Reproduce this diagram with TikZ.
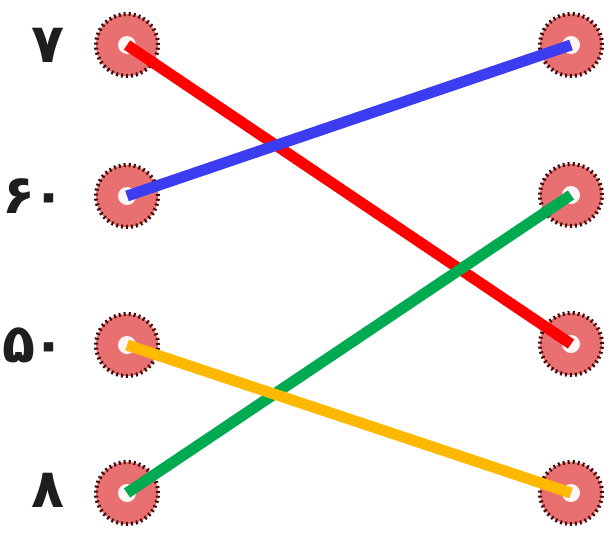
\documentclass[tikz,border=0pt]{standalone}
\usepackage{fontspec}
\usepackage{tikz}
\usepackage{xcolor}
\newfontfamily\digitfont[Script=Arabic]{DejaVu Sans}
\newcommand{\digits}{\digitfont\bfseries\fontsize{54pt}{58pt}\selectfont}
\definecolor{dotfill}{RGB}{232,112,112}
\definecolor{dotrim}{RGB}{70,10,10}
\definecolor{linkblue}{RGB}{60,60,240}
\definecolor{linkgreen}{RGB}{0,170,80}
\definecolor{linkorange}{RGB}{255,185,0}
\definecolor{numgray}{RGB}{30,30,30}

\begin{document}
\begin{tikzpicture}[x=1pt,y=-1pt,
    dot/.style={circle,minimum size=62pt,inner sep=0pt,fill=dotfill,
        draw=dotrim,line width=4pt,dash pattern=on 2pt off 3pt},
    spot/.style={circle,minimum size=18pt,inner sep=0pt,fill=white!85!pink},
    num/.style={anchor=east,inner sep=0pt,text=numgray},
    link/.style={line width=11pt}]
    \useasboundingbox (0,0) rectangle (615,541);

    % labels on the left
    \node[num] (n1) at (65,45) {\digits ۷};
    \node[num] (n2) at (66,196) {\digits ۶\kern-3pt۰};
    \node[num] (n3) at (66,345) {\digits ۵\kern-3pt۰};
    \node[num] (n4) at (65,490) {\digits ۸};

    % circles
    \foreach \y [count=\i] in {45,196,345,493} {
        \node[dot] (l\i) at (127,\y) {};
        \node[spot] at (l\i) {};
    }
    \foreach \y [count=\i] in {45,195,344,493} {
        \node[dot] (r\i) at (571,\y) {};
        \node[spot] at (r\i) {};
    }

    % connectors
    \draw[link,red] (l1.center) -- (r3.center);
    \draw[link,linkblue] (l2.center) -- (r1.center);
    \draw[link,linkgreen] (l4.center) -- (r2.center);
    \draw[link,linkorange] (l3.center) -- (r4.center);

\end{tikzpicture}
\end{document}
